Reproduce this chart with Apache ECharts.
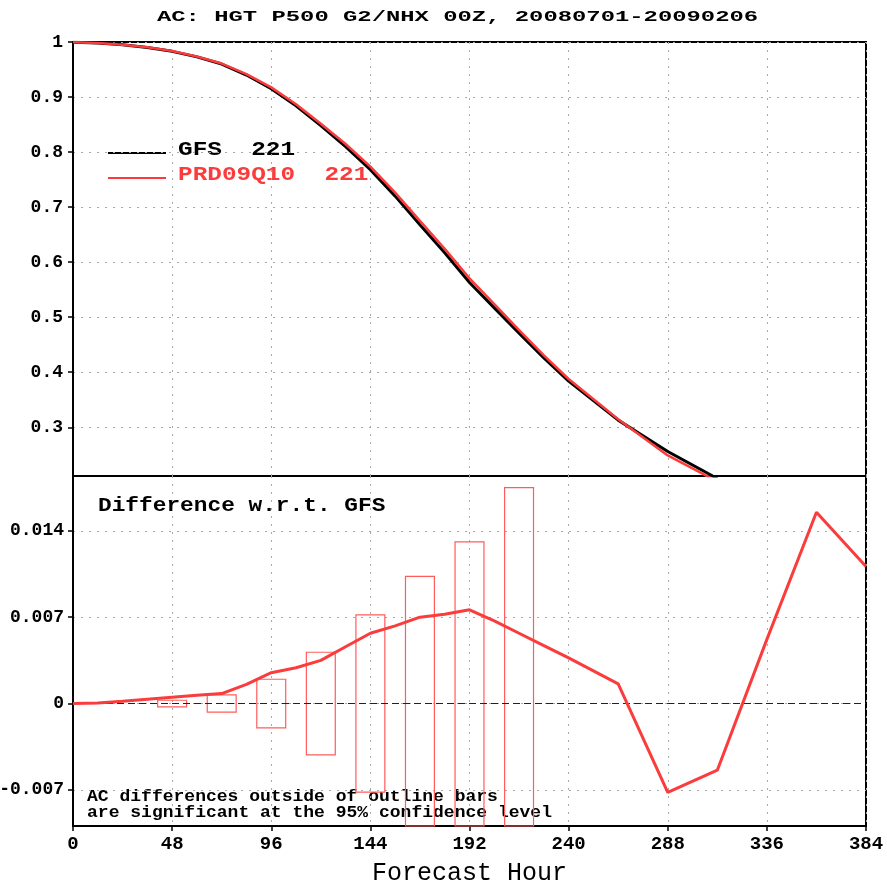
<!DOCTYPE html>
<html><head><meta charset="utf-8">
<script src="https://cdn.jsdelivr.net/npm/echarts@6/dist/echarts.min.js"></script>
<style>html,body{margin:0;padding:0;background:#fff}#c{width:887px;height:884px}</style>
</head><body><div id="c"></div>
<script>
// ---- data ----
const chartTitle = 'AC: HGT P500 G2/NHX 00Z, 20080701-20090206';
const hours = [0,12,24,36,48,60,72,84,96,108,120,132,144,156,168,180,192,204,216,228,240,264,288,312,336,360,384];
const acHours = [0,12,24,36,48,60,72,84,96,108,120,132,144,156,168,180,192,204,216,228,240,264,288,312];
const gfsAC = [0.9995,0.998,0.995,0.990,0.983,0.973,0.960,0.940,0.915,0.884,0.848,0.810,0.768,0.720,0.668,0.617,0.563,0.517,0.471,0.426,0.384,0.313,0.256,0.207];
const prdAC = [0.9995,0.998,0.9952,0.9903,0.9835,0.9737,0.9608,0.9416,0.9175,0.887,0.8515,0.8146,0.7737,0.7263,0.675,0.6242,0.5706,0.5237,0.4767,0.4307,0.3877,0.3146,0.2488,0.2016];
const diffAC = [0,0.00005,0.00019,0.00035,0.00051,0.00067,0.00081,0.00156,0.0025,0.0029,0.0035,0.0046,0.0057,0.0063,0.0070,0.00724,0.0076,0.0067,0.0057,0.0047,0.0037,0.0016,-0.0072,-0.0054,0.0052,0.0155,0.0111];
const barHours = [48,72,96,120,144,168,192,216];
const barHalfRange = [0.00027,0.0007,0.00197,0.00416,0.00718,0.0103,0.0131,0.0175];
const xTicks = [0,48,96,144,192,240,288,336,384];
const yTopTicks = [0.3,0.4,0.5,0.6,0.7,0.8,0.9,1];
const yBotTicks = [-0.007,0,0.007,0.014];
const seriesNames = ['GFS  221','PRD09Q10  221'];
const panelLabel = 'Difference w.r.t. GFS';
const noteLines = ['AC differences outside of outline bars','are significant at the 95% confidence level'];
const xName = 'Forecast Hour';

// ---- style ----
const RED = '#fa3c3c';
const BAR_RED = '#ff5c5c';
const labFont = {fontFamily:'Liberation Mono', fontWeight:'bold', fontSize:19, color:'#000'};
const yLabFont = {fontFamily:'Liberation Mono', fontWeight:'bold', fontSize:18, color:'#000'};
const gridLine = {show:true, lineStyle:{color:'#a8a8a8', type:[2,6], width:1}};

const chart = echarts.init(document.getElementById('c'), null, {renderer:'canvas'});
const option = {
  animation:false,
  backgroundColor:'#fff',
  grid:[
    {left:73, right:21, top:42, height:434, show:true, borderColor:'#000', borderWidth:2, containLabel:false, outerBoundsMode:'none'},
    {left:73, right:21, top:476, height:350, show:true, borderColor:'#000', borderWidth:2, containLabel:false, outerBoundsMode:'none'}
  ],
  xAxis:[
    {gridIndex:0, type:'value', min:0, max:384, interval:48,
     axisLine:{show:false, onZero:false}, axisTick:{show:false}, axisLabel:{show:false}, splitLine:gridLine},
    {gridIndex:1, type:'value', min:0, max:384, interval:48,
     axisLine:{show:true, onZero:false, lineStyle:{color:'#000', width:2}},
     axisTick:{show:true, length:5, lineStyle:{color:'#000', width:1.5}},
     axisLabel:Object.assign({margin:9}, labFont), splitLine:gridLine,
     name:xName, nameLocation:'middle', nameGap:35, nameMoveOverlap:false,
     nameTextStyle:{fontFamily:'Liberation Mono', fontSize:25, color:'#000'}}
  ],
  yAxis:[
    {gridIndex:0, type:'value', min:0.2115, max:1,
     axisLine:{show:true, onZero:false, lineStyle:{color:'#000', width:2}},
     axisTick:{show:true, length:5, customValues:yTopTicks, lineStyle:{color:'#000', width:1.5}},
     axisLabel:Object.assign({margin:10, customValues:yTopTicks}, yLabFont),
     splitLine:gridLine},
    {gridIndex:1, type:'value', min:-0.00992, max:0.01844,
     axisLine:{show:true, onZero:false, lineStyle:{color:'#000', width:2}},
     axisTick:{show:true, length:5, customValues:yBotTicks, lineStyle:{color:'#000', width:1.5}},
     axisLabel:Object.assign({margin:9, customValues:yBotTicks}, yLabFont),
     splitLine:gridLine}
  ],
  series:[
    {name:seriesNames[0], type:'line', xAxisIndex:0, yAxisIndex:0, showSymbol:false, z:3,
     data:acHours.map((h,i)=>[h,gfsAC[i]]), lineStyle:{color:'#000', width:3}, itemStyle:{color:'#000'}},
    {name:seriesNames[1], type:'line', xAxisIndex:0, yAxisIndex:0, showSymbol:false, z:4,
     data:acHours.map((h,i)=>[h,prdAC[i]]), lineStyle:{color:RED, width:2.5}, itemStyle:{color:RED}},
    {name:'ci', type:'custom', xAxisIndex:1, yAxisIndex:1, z:2,
     data:barHours.map((h,i)=>[h,barHalfRange[i]]),
     renderItem:function(params, api){
       const h = api.value(0), ci = api.value(1);
       const p1 = api.coord([h-7, ci]);
       const p2 = api.coord([h+7, -ci]);
       const cs = params.coordSys;
       const rect = {x:p1[0], y:p1[1], width:p2[0]-p1[0], height:p2[1]-p1[1]};
       const clipped = echarts.graphic.clipRectByRect(rect, {x:cs.x, y:cs.y, width:cs.width, height:cs.height});
       if (!clipped) return null;
       return {type:'rect', shape:clipped, style:{fill:'none', stroke:BAR_RED, lineWidth:1.2}};
     }},
    {name:'diff', type:'line', xAxisIndex:1, yAxisIndex:1, showSymbol:false, z:5,
     data:hours.map((h,i)=>[h,diffAC[i]]), lineStyle:{color:RED, width:3}, itemStyle:{color:RED},
     markLine:{silent:true, symbol:'none', label:{show:false},
       lineStyle:{color:'#222', type:[7,4], width:1.2},
       data:[{yAxis:0}]}}
  ],
  graphic:[
    {type:'text', x:157, y:17, scaleX:1.59, style:{text:chartTitle, font:'bold 15px "Liberation Mono"', fill:'#000', align:'left', verticalAlign:'middle', textAlign:'left', textVerticalAlign:'middle'}},
    {type:'line', shape:{x1:108, y1:153, x2:166, y2:153}, style:{stroke:'#000', lineWidth:2}},
    {type:'text', x:178, y:150, scaleX:1.22, style:{text:seriesNames[0], font:'bold 20px "Liberation Mono"', fill:'#000', align:'left', verticalAlign:'middle', textAlign:'left', textVerticalAlign:'middle'}},
    {type:'line', shape:{x1:108, y1:178, x2:166, y2:178}, style:{stroke:RED, lineWidth:2}},
    {type:'text', x:178, y:175, scaleX:1.22, style:{text:seriesNames[1], font:'bold 20px "Liberation Mono"', fill:RED, align:'left', verticalAlign:'middle', textAlign:'left', textVerticalAlign:'middle'}},
    {type:'text', x:98, y:506, scaleX:1.14, style:{text:panelLabel, font:'bold 20px "Liberation Mono"', fill:'#000', align:'left', verticalAlign:'middle', textAlign:'left', textVerticalAlign:'middle'}},
    {type:'text', x:87, y:797, scaleX:1.06, style:{text:noteLines[0], font:'bold 17px "Liberation Mono"', fill:'#000', align:'left', verticalAlign:'middle', textAlign:'left', textVerticalAlign:'middle'}},
    {type:'text', x:87, y:813, scaleX:1.06, style:{text:noteLines[1], font:'bold 17px "Liberation Mono"', fill:'#000', align:'left', verticalAlign:'middle', textAlign:'left', textVerticalAlign:'middle'}}
  ]
};
chart.setOption(option);
</script>
</body></html>
